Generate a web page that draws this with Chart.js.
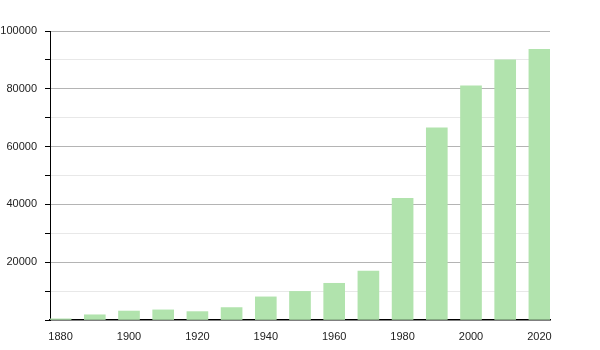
<!DOCTYPE html>
<html>
<head>
<meta charset="utf-8">
<script src="https://cdn.jsdelivr.net/npm/chart.js@4"></script>
<style>
  html, body { margin: 0; padding: 0; background: #fff; }
  canvas { display: block; }
</style>
</head>
<body>
<canvas id="popChart" width="600" height="350"></canvas>
<script>
// 데이터 (연도별 인구)
const years = [1880, 1890, 1900, 1910, 1920, 1930, 1940, 1950, 1960, 1970, 1980, 1990, 2000, 2010, 2020];
const population = [400, 1800, 3100, 3500, 2900, 4300, 8000, 9900, 12700, 16900, 42100, 66500, 81000, 90000, 93700];
const xTickYears = [1880, 1900, 1920, 1940, 1960, 1980, 2000, 2020];

const ctx = document.getElementById('popChart').getContext('2d');
new Chart(ctx, {
    type: 'bar',
    data: {
        datasets: [{
            data: years.map((y, i) => ({ x: y, y: population[i] })),
            backgroundColor: '#b1e3ad',
            borderWidth: 0,
            barThickness: 21
        }]
    },
    options: {
        responsive: false,
        animation: false,
        layout: { padding: { top: 31, right: 50, left: 0, bottom: 0 } },
        plugins: { legend: { display: false }, tooltip: { enabled: false } },
        scales: {
            x: {
                type: 'linear',
                offset: false,
                min: 1876.9,
                max: 2023.1,
                afterBuildTicks: (axis) => { axis.ticks = xTickYears.map(v => ({ value: v })); },
                afterFit: (axis) => { axis.height = 30; },
                grid: { display: false },
                border: { display: true, color: '#000', width: 1.5 },
                ticks: {
                    color: '#222',
                    padding: 2,
                    font: { family: 'Liberation Sans', size: 11 },
                    callback: (v) => String(v)
                }
            },
            y: {
                min: 0,
                max: 100000,
                afterFit: (axis) => { axis.width = 50; },
                border: { display: true, color: '#000', width: 1 },
                grid: {
                    drawTicks: true,
                    tickLength: 5,
                    tickColor: '#000',
                    color: (c) => {
                        const v = c.tick ? c.tick.value : 0;
                        if (v === 0) return 'rgba(0,0,0,0)';
                        return v % 20000 === 0 ? '#b4b4b4' : '#e8e8e8';
                    }
                },
                ticks: {
                    stepSize: 10000,
                    color: '#222',
                    padding: 8,
                    font: { family: 'Liberation Sans', size: 11 },
                    callback: (v) => (v % 20000 === 0 && v !== 0) ? String(v) : ''
                }
            }
        }
    }
});
</script>
</body>
</html>
